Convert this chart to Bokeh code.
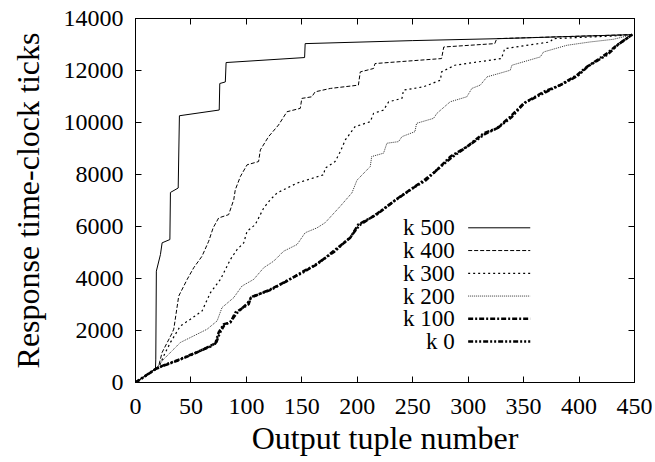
from bokeh.plotting import figure
from bokeh.models import Range1d, LinearAxis, FixedTicker
from bokeh.core.properties import value
from bokeh.embed import file_html
from bokeh.resources import INLINE

# ---------------- data ----------------
x_ticks = [0, 50, 100, 150, 200, 250, 300, 350, 400, 450]
y_ticks = [0, 2000, 4000, 6000, 8000, 10000, 12000, 14000]

series_names = ["k 500", "k 400", "k 300", "k 200", "k 100", "k 0"]

k500_x = [0, 18, 18.3, 18.8, 22.5, 24, 31, 31.5, 38.5, 39.6, 75.5, 76, 81, 81.7, 152.5, 153, 250, 329, 448]
k500_y = [0, 520, 900, 4283, 4923, 5372, 5498, 7310, 7480, 10260, 10480, 11500, 11560, 12306, 12498, 13034, 13150, 13226, 13380]

k400_x = [0, 18, 21, 24, 33, 34.5, 39, 46.6, 52.5, 60, 66, 70, 75, 84, 88.6, 90, 94.6, 100.6, 111, 112.6, 120, 129, 136.6,
          148.6, 150, 159, 162, 175.7, 201, 202.7, 214.7, 216, 276, 278, 324, 325.8, 448]
k400_y = [0, 520, 650, 1157, 1900, 2052, 3326, 3966, 4413, 4858, 5433, 5946, 6330, 6456, 7031, 7414, 7923, 8372, 8498, 8946,
          9456, 9904, 10414, 10544, 10927, 10989, 11180, 11310, 11437, 11946, 12077, 12268, 12459, 12904, 13034, 13226, 13380]

k300_x = [0, 18, 22, 25.5, 31.5, 40.5, 49.5, 60, 67.6, 76.6, 85.6, 91.6, 97.6, 100.6, 108, 115.6, 121.6, 127.6, 136.6,
          145.7, 169.6, 171, 180, 184.7, 189.2, 198, 211.7, 214.7, 223.7, 228.3, 240.3, 241.7, 259.7, 275, 276, 288,
          330, 333, 373.8, 376.8, 431, 448]
k300_y = [0, 520, 680, 1027, 1540, 2176, 2433, 2751, 3456, 3966, 4732, 5115, 5372, 5816, 6073, 6713, 7031, 7287, 7479,
          7670, 7988, 8245, 8498, 8881, 9329, 9839, 10031, 10352, 10479, 10797, 10927, 11245, 11372, 11628, 11946, 12203,
          12459, 12842, 13098, 13226, 13328, 13380]

k200_x = [0, 18, 25.5, 40.5, 52.5, 64.6, 73.6, 78, 88.6, 96, 106.6, 115.6, 124.6, 133.6, 145.7, 153, 163.6, 171,
          184.7, 195.2, 199.7, 211.7, 213, 223.7, 226.7, 237.2, 240.3, 252, 253.5, 268.8, 271.8, 283.8, 298.8, 303.3,
          311, 317, 329, 338, 339.4, 365, 368, 389, 410, 431, 448]
k200_y = [0, 520, 900, 1540, 1793, 2050, 2368, 2881, 3264, 3709, 3966, 4413, 4667, 5050, 5307, 5760, 5946, 6145,
          6780, 7295, 7780, 8307, 8690, 8820, 9203, 9264, 9456, 9648, 9969, 10160, 10352, 10797, 10989, 11310,
          11440, 11755, 11900, 12011, 12203, 12521, 12713, 12970, 13098, 13200, 13380]

k100_x = [0, 10, 18, 22.5, 37.6, 55.5, 67.6, 72, 75, 79.6, 85.6, 90, 102, 104, 121.6, 136.6, 151.6, 163.6, 178.6,
          193.7, 201, 217.7, 235, 250, 261, 270, 284, 299, 314, 326, 338, 350, 368, 383, 398, 407, 425, 434, 448]
k100_y = [0, 290, 518, 600, 836, 1158, 1411, 1500, 1925, 2244, 2306, 2690, 3008, 3264, 3582, 3900, 4283, 4540, 5055,
          5570, 6080, 6463, 7040, 7480, 7806, 8100, 8690, 9073, 9586, 9777, 10222, 10735, 11180, 11437, 11820, 12138,
          12650, 12970, 13380]

k0_x = [0, 10, 18, 23, 38, 56, 68, 73, 76, 80, 86, 91, 101, 105, 122, 137, 152, 164, 179, 194, 202, 218, 234, 251,
        262, 271, 285, 300, 315, 327, 339, 351, 369, 384, 399, 408, 426, 435, 448]
k0_y = [0, 280, 510, 620, 860, 1180, 1390, 1560, 1900, 2200, 2350, 2650, 3050, 3300, 3560, 3930, 4250, 4580, 5020,
        5600, 6050, 6500, 7000, 7500, 7780, 8150, 8650, 9100, 9550, 9800, 10200, 10760, 11150, 11460, 11800, 12160,
        12620, 12990, 13380]

# ---------------- styling ----------------
FONT = "Liberation Serif"
styles = [
    dict(line_color="black", line_width=1.0, line_dash="solid"),
    dict(line_color="black", line_width=1.0, line_dash="4 2"),
    dict(line_color="black", line_width=1.2, line_dash="2 3"),
    dict(line_color="#333333", line_width=1.0, line_dash="1 1"),
    dict(line_color="black", line_width=2.5, line_dash="5 2 2 2"),
    dict(line_color="black", line_width=2.5, line_dash="5 2 2 2 2 2"),
]
xs = [k500_x, k400_x, k300_x, k200_x, k100_x, k0_x]
ys = [k500_y, k400_y, k300_y, k200_y, k100_y, k0_y]

p = figure(width=652, height=458, x_range=Range1d(0, 450), y_range=Range1d(0, 14000),
           output_backend="svg", toolbar_location=None,
           min_border_left=135, min_border_right=18, min_border_top=18, min_border_bottom=75)
p.background_fill_color = "white"
p.border_fill_color = "white"
p.outline_line_color = "black"
p.xgrid.visible = False
p.ygrid.visible = False

bottom_ax = p.below[0]
left_ax = p.left[0]
top_ax = LinearAxis()
right_ax = LinearAxis()
p.add_layout(top_ax, "above")
p.add_layout(right_ax, "right")

for ax, ticks in [(bottom_ax, x_ticks), (top_ax, x_ticks), (left_ax, y_ticks), (right_ax, y_ticks)]:
    ax.ticker = FixedTicker(ticks=ticks)
    ax.major_tick_in = 6
    ax.major_tick_out = 0
    ax.minor_tick_line_color = None
    ax.axis_line_color = "black"
    ax.major_tick_line_color = "black"
    ax.major_label_text_font = FONT
    ax.major_label_text_font_size = "24px"
    ax.major_label_text_color = "black"

top_ax.major_label_overrides = {t: "" for t in x_ticks}
right_ax.major_label_overrides = {t: "" for t in y_ticks}
for ax in (top_ax, right_ax):
    ax.major_label_standoff = 0

bottom_ax.major_label_standoff = 16
left_ax.major_label_standoff = 12

bottom_ax.axis_label = "Output tuple number"
left_ax.axis_label = "Response time-clock ticks"
for ax in (bottom_ax, left_ax):
    ax.axis_label_text_font = FONT
    ax.axis_label_text_font_size = "32px"
    ax.axis_label_text_font_style = "normal"
    ax.axis_label_text_color = "black"
bottom_ax.axis_label_standoff = 3
left_ax.axis_label_standoff = 15

for x, y, st in zip(xs, ys, styles):
    p.line(x, y, **st)

# ---------------- legend (gnuplot style: label then sample) ----------------
LEG_TEXT_X = 288
LEG_X0, LEG_X1 = 300, 356
LEG_Y0, LEG_DY = 5950, 875
for i, (name, st) in enumerate(zip(series_names, styles)):
    yy = LEG_Y0 - i * LEG_DY
    p.line([LEG_X0, LEG_X1], [yy, yy], **st)
    p.text(x=[LEG_TEXT_X], y=[yy], text=[name], text_font=value(FONT), text_font_size="23px",
           text_align="right", text_baseline="middle", text_color="black")

open("out.html", "w").write(file_html(p, INLINE))
